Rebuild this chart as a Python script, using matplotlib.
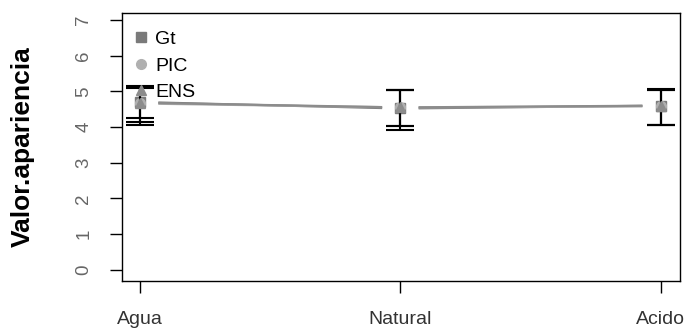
import numpy as np
import matplotlib.pyplot as plt

plt.rcParams['font.family'] = ['Liberation Sans', 'DejaVu Sans']

categories = ["Agua", "Natural", "Acido"]
series = ["Gt", "PIC", "ENS"]
means = {
    "Gt": [4.70, 4.52, 4.60],
    "PIC": [4.66, 4.55, 4.58],
    "ENS": [4.68, 4.55, 4.60],
}
lower = {
    "Gt": [4.25, 4.03, 4.07],
    "PIC": [4.15, 3.93, 4.05],
    "ENS": [4.05, 4.03, 4.07],
}
upper = {
    "Gt": [5.12, 5.03, 5.07],
    "PIC": [5.15, 5.05, 5.05],
    "ENS": [5.08, 5.05, 5.05],
}
colors = {"Gt": "#7a7a7a", "PIC": "#b0b0b0", "ENS": "#8c8c8c"}
markers = {"Gt": "s", "PIC": "o", "ENS": "^"}

fig = plt.figure(figsize=(6.9, 3.32), dpi=100)
ax = fig.add_axes([0.177, 0.154, 0.808, 0.807])

x = np.arange(1, len(categories) + 1)
gap = 0.07  # like R type="b": lines stop short of the points
for s in series:
    y = np.array(means[s])
    for i in range(len(x) - 1):
        x0, x1 = x[i] + gap, x[i + 1] - gap
        y0, y1 = np.interp([x0, x1], x, y)
        ax.plot([x0, x1], [y0, y1], color=colors[s], lw=1.6, solid_capstyle='butt')
    ax.errorbar(x, y, yerr=[y - np.array(lower[s]), np.array(upper[s]) - y],
                fmt='none', ecolor='black', elinewidth=1.5, capsize=10, capthick=1.5)
    ax.plot(x, y, linestyle='none', marker=markers[s], color=colors[s], ms=7, label=s)

ax.set_xlim(0.931, 3.073)
ax.set_ylim(-0.308, 7.196)
ax.set_xticks(x)
ax.set_xticklabels(categories, fontsize=14, color='#333333')
ax.set_yticks(range(0, 8))
ax.set_yticklabels([str(v) for v in range(0, 8)], fontsize=13.5, color='#666666',
                   rotation=90, va='center')
ax.tick_params(axis='x', length=8.5, width=1, pad=13)
ax.tick_params(axis='y', length=8.5, width=1, pad=13)
for sp in ax.spines.values():
    sp.set_linewidth(1)
ax.set_ylabel("Valor.apariencia", fontsize=19, fontweight='bold')
ax.yaxis.set_label_coords(-0.157, 0.5)

ax.legend(loc='upper left', bbox_to_anchor=(-0.004, 0.985), frameon=False, fontsize=14,
          handlelength=0.8, handletextpad=0.3, labelspacing=0.46, borderaxespad=0.3)

fig.savefig("out.png", dpi=100)
